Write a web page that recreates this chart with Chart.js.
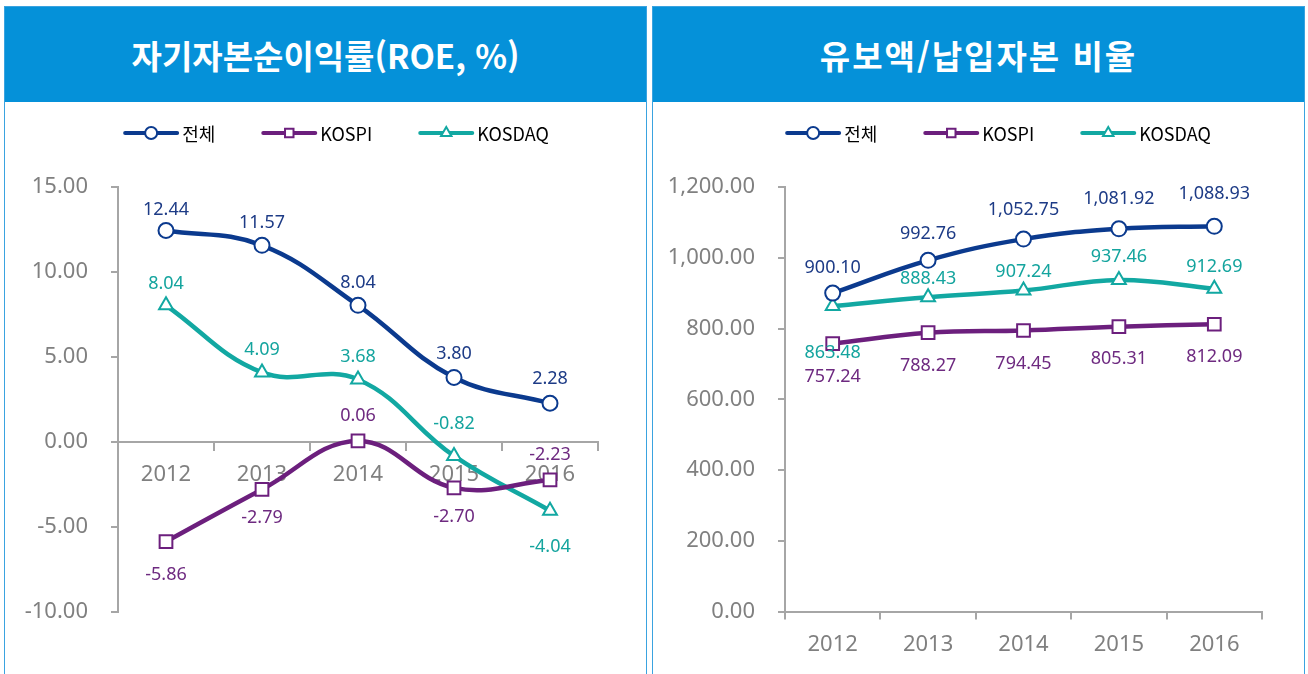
<!DOCTYPE html>
<html lang="ko">
<head>
<meta charset="utf-8">
<title>자기자본순이익률 / 유보액 비율</title>
<script src="https://cdn.jsdelivr.net/npm/chart.js@4.4.1/dist/chart.umd.min.js"></script>
<style>
    body { margin: 0; width: 1308px; height: 674px; background: #fff; overflow: hidden; position: relative; font-family: "Noto Sans CJK KR", sans-serif; }
    .panel { position: absolute; top: 6px; height: 720px; border: 1px solid #3aa3e0; box-sizing: border-box; }
    .panel h2 { margin: 0; height: 95px; background: #0591d9; color: #fff; font-size: 33px; font-weight: bold; display: flex; align-items: center; justify-content: center; }
    canvas { position: absolute; top: 102px; }
</style>
</head>
<body>
<div class="panel" style="left:4px; width:643px;"><h2>자기자본순이익률(ROE, %)</h2></div>
<div class="panel" style="left:652px; width:653px;"><h2 style="letter-spacing:2px;">유보액/납입자본 비율</h2></div>
<canvas id="roe" width="640" height="572" style="left:5px;"></canvas>
<canvas id="reserve" width="650" height="572" style="left:653px;"></canvas>

<script>
// categories
const years = ['2012', '2013', '2014', '2015', '2016'];
const seriesNames = ['전체', 'KOSPI', 'KOSDAQ'];

// ROE (%)
const roeTotal = [12.44, 11.57, 8.04, 3.80, 2.28];
const roeKospi = [-5.86, -2.79, 0.06, -2.70, -2.23];
const roeKosdaq = [8.04, 4.09, 3.68, -0.82, -4.04];
const roeTicks = [-10, -5, 0, 5, 10, 15];

// 유보액/납입자본 비율
const reserveTotal = [900.10, 992.76, 1052.75, 1081.92, 1088.93];
const reserveKospi = [757.24, 788.27, 794.45, 805.31, 812.09];
const reserveKosdaq = [863.48, 888.43, 907.24, 937.46, 912.69];
const reserveTicks = [0, 200, 400, 600, 800, 1000, 1200];

const colors = {
    total: '#0b3a8e', totalText: '#1d3b86',
    kospi: '#6c1f7d', kospiText: '#6e2a80',
    kosdaq: '#12a8a2', kosdaqText: '#14a49e'
};
const axisGray = '#a6a6a6';
const tickGray = '#808080';

const fmt = (v) => v.toLocaleString('en-US', { minimumFractionDigits: 2, maximumFractionDigits: 2 });

// data labels next to each point (dy: pixel shift, negative = above)
const valueLabels = {
    id: 'valueLabels',
    afterDatasetsDraw(chart) {
        const ctx = chart.ctx;
        ctx.save();
        ctx.font = '18px "Noto Sans"';
        ctx.textAlign = 'center';
        ctx.textBaseline = 'middle';
        chart.data.datasets.forEach((ds, i) => {
            chart.getDatasetMeta(i).data.forEach((pt, j) => {
                ctx.fillStyle = ds.labelColor;
                ctx.fillText(fmt(ds.data[j]), pt.x, pt.y + ds.labelDy[j]);
            });
        });
        ctx.restore();
    }
};

// legend: line sample with marker, like the spreadsheet legend
const lineLegend = {
    id: 'lineLegend',
    afterDraw(chart, args, opts) {
        const ctx = chart.ctx;
        ctx.save();
        ctx.font = '18px "Noto Sans CJK KR"';
        ctx.textBaseline = 'middle';
        const sample = 56, gapText = 3, gapItem = 46;
        const items = chart.data.datasets.map(ds => ({ ds, w: sample + gapText + ctx.measureText(ds.label).width }));
        const total = items.reduce((s, it) => s + it.w, 0) + gapItem * (items.length - 1);
        let x = opts.centerX - total / 2;
        const y = opts.y;
        items.forEach(({ ds, w }) => {
            ctx.strokeStyle = ds.borderColor;
            ctx.lineWidth = 4;
            ctx.lineCap = 'round';
            ctx.beginPath();
            ctx.moveTo(x + 2, y);
            ctx.lineTo(x + sample - 2, y);
            ctx.stroke();
            ctx.fillStyle = '#fff';
            ctx.lineWidth = 2;
            Chart.helpers.drawPoint(ctx, { pointStyle: ds.pointStyle, radius: 6, rotation: 0, borderWidth: 2 }, x + sample / 2, y);
            ctx.fillStyle = '#000';
            ctx.fillText(ds.label, x + sample + gapText, y + 1);
            x += w + gapItem;
        });
        ctx.restore();
    }
};

function makeDataset(label, data, color, textColor, pointStyle, radius, dy) {
    return {
        label: label,
        data: data,
        borderColor: color,
        backgroundColor: '#fff',
        borderWidth: 4.5,
        tension: 0.4,
        pointStyle: pointStyle,
        pointRadius: radius,
        pointBorderWidth: 2,
        pointBackgroundColor: '#fff',
        pointBorderColor: color,
        labelColor: textColor,
        labelDy: dy,
        clip: false
    };
}

function makeChart(canvasId, datasets, ticks, opts) {
    const ctx = document.getElementById(canvasId).getContext('2d');
    return new Chart(ctx, {
        type: 'line',
        data: { labels: years, datasets: datasets },
        options: {
            responsive: false,
            animation: false,
            layout: { padding: { left: 0, right: opts.padRight, top: opts.padTop, bottom: opts.padBottom } },
            plugins: {
                legend: { display: false },
                tooltip: { enabled: false },
                lineLegend: { centerX: opts.legendX, y: 31 }
            },
            scales: {
                x: {
                    position: opts.xPosition,
                    offset: true,
                    grid: { offset: true, drawOnChartArea: false, drawTicks: true, tickLength: 8, color: axisGray, lineWidth: 2 },
                    border: { color: axisGray, width: 2 },
                    ticks: { color: tickGray, font: { size: 22, family: '"Noto Sans"' }, padding: 12, maxRotation: 0 }
                },
                y: {
                    min: ticks[0],
                    max: ticks[ticks.length - 1],
                    afterBuildTicks: (scale) => { scale.ticks = ticks.map(v => ({ value: v })); },
                    afterFit: (scale) => { scale.width = opts.axisX; },
                    grid: { drawOnChartArea: false, drawTicks: true, tickLength: 7, color: axisGray, lineWidth: 2 },
                    border: { color: axisGray, width: 2 },
                    ticks: { color: tickGray, font: { size: 22, family: '"Noto Sans"' }, padding: 23, callback: (v) => fmt(v) }
                }
            }
        },
        plugins: [valueLabels, lineLegend]
    });
}

document.addEventListener('DOMContentLoaded', function() {
    makeChart('roe', [
        makeDataset(seriesNames[0], roeTotal, colors.total, colors.totalText, 'circle', 7.5, [-21, -22, -22, -24, -24]),
        makeDataset(seriesNames[1], roeKospi, colors.kospi, colors.kospiText, 'rect', 9, [33, 28, -25, 29, -25]),
        makeDataset(seriesNames[2], roeKosdaq, colors.kosdaq, colors.kosdaqText, 'triangle', 8, [-21, -23, -23, -32, 36])
    ], roeTicks, { padRight: 47, padTop: 85, padBottom: 62, axisX: 113, legendX: 331, xPosition: { y: 0 } });

    makeChart('reserve', [
        makeDataset(seriesNames[0], reserveTotal, colors.total, colors.totalText, 'circle', 7.5, [-25, -26, -29, -30, -32]),
        makeDataset(seriesNames[1], reserveKospi, colors.kospi, colors.kospiText, 'rect', 9, [33, 33, 33, 32, 33]),
        makeDataset(seriesNames[2], reserveKosdaq, colors.kosdaq, colors.kosdaqText, 'triangle', 8, [47, -18, -19, -23, -22])
    ], reserveTicks, { padRight: 41, padTop: 85, padBottom: 4, axisX: 132, legendX: 345, xPosition: 'bottom' });
});
</script>
</body>
</html>
